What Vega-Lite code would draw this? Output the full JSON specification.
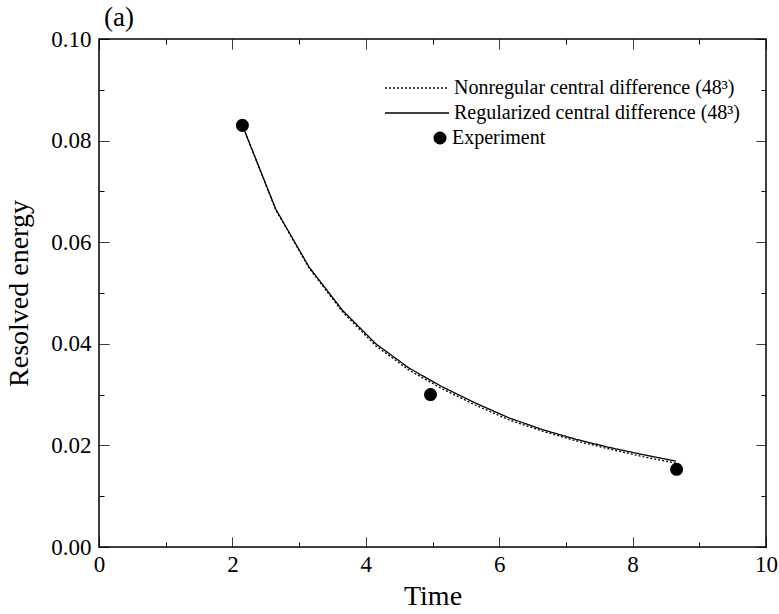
{
  "$schema": "https://vega.github.io/schema/vega-lite/v6.json",
  "width": 667,
  "height": 508,
  "autosize": {"type": "none"},
  "padding": {"left": 99, "top": 39, "right": 13, "bottom": 67},
  "background": "white",
  "title": {"text": "(a)", "anchor": "start", "frame": "group", "font": "Liberation Serif", "fontSize": 27, "fontWeight": "normal", "color": "black", "offset": -4, "dx": 5},
  "config": {
    "view": {"stroke": "black", "strokeWidth": 1.5},
    "font": "Liberation Serif"
  },
  "datasets": {
    "curves": [
      {"t": 2.15, "e": 0.0830, "series": "Regularized central difference (48³)"},
      {"t": 2.65, "e": 0.0665, "series": "Regularized central difference (48³)"},
      {"t": 3.15, "e": 0.0551, "series": "Regularized central difference (48³)"},
      {"t": 3.65, "e": 0.0466, "series": "Regularized central difference (48³)"},
      {"t": 4.15, "e": 0.0400, "series": "Regularized central difference (48³)"},
      {"t": 4.65, "e": 0.0352, "series": "Regularized central difference (48³)"},
      {"t": 5.15, "e": 0.0315, "series": "Regularized central difference (48³)"},
      {"t": 5.65, "e": 0.0283, "series": "Regularized central difference (48³)"},
      {"t": 6.15, "e": 0.0254, "series": "Regularized central difference (48³)"},
      {"t": 6.65, "e": 0.0231, "series": "Regularized central difference (48³)"},
      {"t": 7.15, "e": 0.0212, "series": "Regularized central difference (48³)"},
      {"t": 7.65, "e": 0.0196, "series": "Regularized central difference (48³)"},
      {"t": 8.15, "e": 0.0182, "series": "Regularized central difference (48³)"},
      {"t": 8.65, "e": 0.0169, "series": "Regularized central difference (48³)"},
      {"t": 2.15, "e": 0.0830, "series": "Nonregular central difference (48³)"},
      {"t": 2.65, "e": 0.0664, "series": "Nonregular central difference (48³)"},
      {"t": 3.15, "e": 0.0549, "series": "Nonregular central difference (48³)"},
      {"t": 3.65, "e": 0.0463, "series": "Nonregular central difference (48³)"},
      {"t": 4.15, "e": 0.0396, "series": "Nonregular central difference (48³)"},
      {"t": 4.65, "e": 0.0348, "series": "Nonregular central difference (48³)"},
      {"t": 5.15, "e": 0.0311, "series": "Nonregular central difference (48³)"},
      {"t": 5.65, "e": 0.0279, "series": "Nonregular central difference (48³)"},
      {"t": 6.15, "e": 0.0250, "series": "Nonregular central difference (48³)"},
      {"t": 6.65, "e": 0.0228, "series": "Nonregular central difference (48³)"},
      {"t": 7.15, "e": 0.0209, "series": "Nonregular central difference (48³)"},
      {"t": 7.65, "e": 0.0193, "series": "Nonregular central difference (48³)"},
      {"t": 8.15, "e": 0.0178, "series": "Nonregular central difference (48³)"},
      {"t": 8.65, "e": 0.0165, "series": "Nonregular central difference (48³)"}
    ],
    "exp": [
      {"t": 2.15, "e": 0.0830, "series": "Experiment"},
      {"t": 4.97, "e": 0.0300, "series": "Experiment"},
      {"t": 8.66, "e": 0.0153, "series": "Experiment"}
    ]
  },
  "layer": [
    {
      "data": {"name": "curves"},
      "mark": {"type": "line", "color": "black", "strokeWidth": 1.3},
      "encoding": {
        "x": {
          "field": "t", "type": "quantitative",
          "scale": {"domain": [0, 10], "nice": false, "zero": false},
          "axis": {
            "orient": "bottom", "title": "Time", "titleFont": "Liberation Serif", "titleFontSize": 28, "titleFontWeight": "normal", "titleColor": "black", "titlePadding": 6,
            "values": [0,1,2,3,4,5,6,7,8,9,10], "format": "d",
            "labelExpr": "datum.value % 2 == 0 ? datum.label : ''",
            "labelFont": "Liberation Serif", "labelFontSize": 23, "labelColor": "black", "labelPadding": 16, "labelFlush": false, "labelOverlap": false,
            "domain": false, "grid": false, "ticks": true, "tickSize": -10, "tickColor": "black", "tickWidth": 1,
            "tickDash": {"condition": {"test": "datum.value % 2 == 0", "value": [1, 0]}, "value": [5, 30]}
          }
        },
        "y": {
          "field": "e", "type": "quantitative",
          "scale": {"domain": [0, 0.1], "nice": false},
          "axis": {
            "orient": "left", "title": "Resolved energy", "titleFont": "Liberation Serif", "titleFontSize": 28, "titleFontWeight": "normal", "titleColor": "black", "titlePadding": 17,
            "values": [0,0.01,0.02,0.03,0.04,0.05,0.06,0.07,0.08,0.09,0.1], "format": ".2f",
            "labelExpr": "round(datum.value * 100) % 2 == 0 ? datum.label : ''",
            "labelFont": "Liberation Serif", "labelFontSize": 23, "labelColor": "black", "labelPadding": 18, "labelFlush": false, "labelOverlap": false,
            "domain": false, "grid": false, "ticks": true, "tickSize": -10, "tickColor": "black", "tickWidth": 1,
            "tickDash": {"condition": {"test": "round(datum.value * 100) % 2 == 0", "value": [1, 0]}, "value": [5, 30]}
          }
        },
        "strokeDash": {
          "field": "series", "type": "nominal",
          "scale": {"domain": ["Nonregular central difference (48³)", "Regularized central difference (48³)"], "range": [[2, 2], [1, 0]]},
          "legend": {
            "orient": "none", "legendX": 285, "legendY": 39, "title": null,
            "labelFont": "Liberation Serif", "labelFontSize": 20, "labelColor": "black", "labelLimit": 0,
            "symbolType": "stroke", "symbolSize": 4096, "symbolStrokeColor": "black", "symbolStrokeWidth": 1.3,
            "clipHeight": 20, "labelOffset": 4, "rowPadding": 5
          }
        }
      }
    },
    {
      "data": {"name": "exp"},
      "mark": {"type": "point", "filled": true, "color": "black", "opacity": 1, "size": 170},
      "encoding": {
        "x": {
          "field": "t", "type": "quantitative",
          "axis": {
            "orient": "top", "title": null, "labels": false,
            "values": [0,1,2,3,4,5,6,7,8,9,10],
            "domain": false, "grid": false, "ticks": true, "tickSize": -10, "tickColor": "black", "tickWidth": 1,
            "tickDash": {"condition": {"test": "datum.value % 2 == 0", "value": [1, 0]}, "value": [5, 30]}
          }
        },
        "y": {
          "field": "e", "type": "quantitative",
          "axis": {
            "orient": "right", "title": null, "labels": false,
            "values": [0,0.01,0.02,0.03,0.04,0.05,0.06,0.07,0.08,0.09,0.1],
            "domain": false, "grid": false, "ticks": true, "tickSize": -10, "tickColor": "black", "tickWidth": 1,
            "tickDash": {"condition": {"test": "round(datum.value * 100) % 2 == 0", "value": [1, 0]}, "value": [5, 30]}
          }
        },
        "shape": {
          "field": "series", "type": "nominal",
          "scale": {"domain": ["Experiment"], "range": ["circle"]},
          "legend": {
            "orient": "none", "legendX": 331, "legendY": 89, "title": null,
            "labelFont": "Liberation Serif", "labelFontSize": 20, "labelColor": "black", "labelLimit": 0,
            "symbolSize": 170, "symbolFillColor": "black", "symbolOpacity": 1, "labelOffset": 2
          }
        }
      }
    }
  ],
  "resolve": {"axis": {"x": "independent", "y": "independent"}}
}
